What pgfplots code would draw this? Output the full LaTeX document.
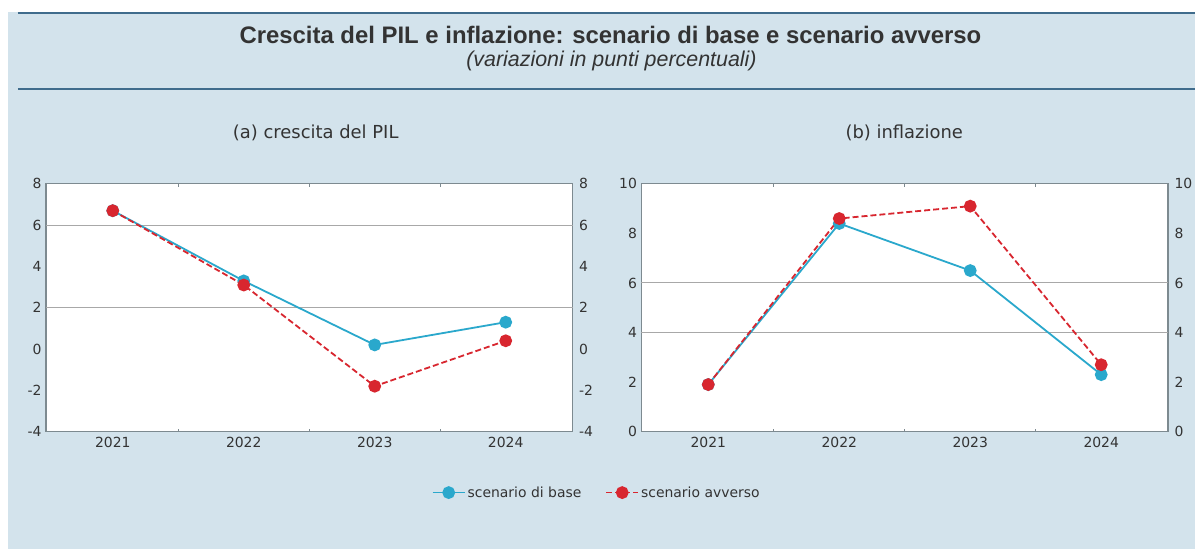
\documentclass[border=0pt]{standalone}
\usepackage{pgfplots}
\pgfplotsset{compat=1.18}
\usepackage{fontspec}
\setmainfont{DejaVu Sans}
\newfontfamily\arial{Liberation Sans}
\definecolor{bg}{HTML}{D3E3EC}
\definecolor{rulec}{HTML}{3F6C8C}
\definecolor{framec}{HTML}{7D8A90}
\definecolor{gridc}{HTML}{A8A8A8}
\definecolor{basec}{HTML}{2AA8CC}
\definecolor{avvc}{HTML}{D8262F}
\definecolor{txt}{HTML}{333333}
\pgfplotsset{
  panel/.style={
    scale only axis, width=527bp, height=248bp, anchor=south west,
    axis background/.style={fill=white},
    xmin=-0.51, xmax=3.51,
    xtick={0,1,2,3}, xticklabels={2021,2022,2023,2024},
    minor xtick={0.5,1.5,2.5},
    major tick length=0pt, minor tick length=3bp,
    tick style={framec, line width=0.8bp},
    axis line style={framec, line width=1.3bp},
    /pgf/number format/assume math mode=true,
    tick label style={font=\fontsize{14}{16}\selectfont, text=txt},
    yticklabel style={xshift=-1bp},
    xticklabel style={yshift=-2bp},
    extra y tick labels={},
    extra y tick style={grid=major, major grid style={gridc, line width=1bp}},
  },
  rightlab/.style={
    scale only axis, width=527bp, height=248bp, anchor=south west,
    xmin=-0.51, xmax=3.51, hide x axis, axis y line*=right,
    axis line style={draw=none}, major tick length=0pt,
    /pgf/number format/assume math mode=true,
    tick label style={font=\fontsize{14}{16}\selectfont, text=txt},
    yticklabel style={xshift=3bp},
  },
  base/.style={basec, line width=1.8bp, mark=*, mark size=5.5bp, mark options={solid, fill=basec, draw=basec}},
  avv/.style={avvc, line width=1.8bp, dash pattern=on 6bp off 3bp, mark=*, mark size=5.5bp, mark options={solid, fill=avvc, draw=avvc}},
}
\begin{document}
\begin{tikzpicture}
\fill[white] (0,0) rectangle (1196bp,549bp);
\fill[bg] (8bp,0) rectangle (1196bp,537bp);
\draw[rulec, line width=2bp] (18bp,536bp) -- (1196bp,536bp);
\draw[rulec, line width=2bp] (18bp,460bp) -- (1196bp,460bp);
\node[text=txt] at (611bp,514bp) {\arial\bfseries\fontsize{24}{28}\selectfont Crescita del PIL e inflazione: scenario di base e scenario avverso};
\node[text=txt] at (612bp,488bp) {\arial\itshape\fontsize{21.5}{25}\selectfont (variazioni in punti percentuali)};
\node[text=txt] at (316bp,416bp) {\fontsize{18}{21}\selectfont (a) crescita del PIL};
\node[text=txt] at (905bp,416bp) {\fontsize{18}{21}\selectfont (b) inflazione};

\begin{axis}[panel, at={(46bp,117bp)}, ymin=-4, ymax=8, ytick={-4,-2,...,8},
  extra y ticks={2,6},
  legend style={at={(1.046,-0.246)}, anchor=center, legend columns=2, draw=none, fill=none,
    font=\fontsize{14}{16}\selectfont, text=txt,
    /tikz/every even column/.append style={column sep=22bp}},
  legend image code/.code={\draw[mark repeat=2,mark phase=2] plot coordinates {(0bp,0bp) (16bp,0bp) (32bp,0bp)};},
]
\addplot[base] coordinates {(0,6.7) (1,3.3) (2,0.2) (3,1.3)};
\addlegendentry{scenario di base}
\addplot[avv] coordinates {(0,6.7) (1,3.1) (2,-1.8) (3,0.4)};
\addlegendentry{scenario avverso}
\end{axis}
\begin{axis}[rightlab, at={(46bp,117bp)}, ymin=-4, ymax=8, ytick={-4,-2,...,8}]
\end{axis}

\begin{axis}[panel, at={(642bp,117bp)}, ymin=0, ymax=10, ytick={0,2,...,10},
  extra y ticks={4,6}]
\addplot[base] coordinates {(0,1.9) (1,8.4) (2,6.5) (3,2.3)};
\addplot[avv] coordinates {(0,1.9) (1,8.6) (2,9.1) (3,2.7)};
\end{axis}
\begin{axis}[rightlab, at={(642bp,117bp)}, ymin=0, ymax=10, ytick={0,2,...,10}]
\end{axis}
\end{tikzpicture}
\end{document}
